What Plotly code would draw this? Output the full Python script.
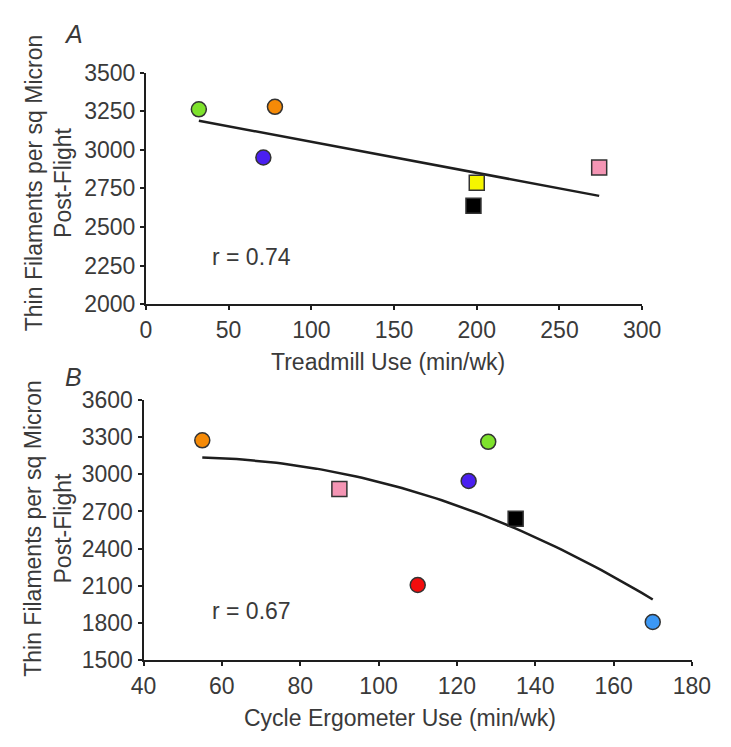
import numpy as np
import plotly.graph_objects as go

# Panel A: treadmill use vs thin filament density
a_labels = ["green", "orange", "blue", "yellow", "black", "pink"]
a_x = [32, 78, 71, 200, 198, 274]
a_y = [3262, 3278, 2950, 2787, 2638, 2885]
a_colors = ["#7ee22c", "#f58a07", "#4a1ff0", "#f5f500", "#000000", "#f495b4"]
a_symbols = ["circle", "circle", "circle", "square", "square", "square"]

# Panel B: cycle ergometer use vs thin filament density
b_labels = ["orange", "pink", "red", "blue", "green", "black", "lightblue"]
b_x = [55, 90, 110, 123, 128, 135, 170]
b_y = [3273, 2880, 2107, 2945, 3261, 2641, 1809]
b_colors = ["#f58a07", "#f495b4", "#f20d0d", "#4a1ff0", "#7ee22c", "#000000", "#3c98f5"]
b_symbols = ["circle", "square", "circle", "circle", "circle", "square", "circle"]

a_xticks = [0, 50, 100, 150, 200, 250, 300]
a_yticks = [2000, 2250, 2500, 2750, 3000, 3250, 3500]
b_xticks = [40, 60, 80, 100, 120, 140, 160, 180]
b_yticks = [1500, 1800, 2100, 2400, 2700, 3000, 3300, 3600]

W, H = 731, 747
FONT = "Liberation Sans, Arial, sans-serif"
TXT = "#3a3a3a"
FS = 23

fig = go.Figure()

ca = np.polyfit(a_x, a_y, 1)
xa = np.linspace(min(a_x), max(a_x), 50)
fig.add_trace(go.Scatter(x=xa, y=np.polyval(ca, xa), mode="lines",
                         line=dict(color="#1e1e1e", width=2.5),
                         xaxis="x", yaxis="y", showlegend=False, hoverinfo="skip"))
cb = np.polyfit(b_x, b_y, 2)
xb = np.linspace(min(b_x), max(b_x), 80)
fig.add_trace(go.Scatter(x=xb, y=np.polyval(cb, xb), mode="lines",
                         line=dict(color="#1e1e1e", width=2.5),
                         xaxis="x2", yaxis="y2", showlegend=False, hoverinfo="skip"))

fig.add_trace(go.Scatter(x=a_x, y=a_y, mode="markers", text=a_labels,
                         marker=dict(color=a_colors, symbol=a_symbols, size=15,
                                     line=dict(color="#333333", width=1.5)),
                         xaxis="x", yaxis="y", showlegend=False))
fig.add_trace(go.Scatter(x=b_x, y=b_y, mode="markers", text=b_labels,
                         marker=dict(color=b_colors, symbol=b_symbols, size=15,
                                     line=dict(color="#333333", width=1.5)),
                         xaxis="x2", yaxis="y2", showlegend=False))

def ax(rng, ticks, domain, anchor):
    return dict(range=rng, tickvals=ticks, domain=domain, anchor=anchor,
                showgrid=False, zeroline=False, showline=True, linecolor="#1e1e1e",
                linewidth=2, ticks="outside", ticklen=4, tickwidth=1.5, tickcolor="#1e1e1e",
                tickfont=dict(family=FONT, size=FS, color=TXT), fixedrange=True)

fig.update_layout(
    width=W, height=H, margin=dict(l=0, r=0, t=0, b=0),
    plot_bgcolor="white", paper_bgcolor="white",
    xaxis=ax([0, 300], a_xticks, [139 / W, 658 / W], "y"),
    yaxis=ax([2000, 3500], a_yticks, [1 - 301.7 / H, 1 - 61.7 / H], "x"),
    xaxis2=ax([40, 180], b_xticks, [136.5 / W, 710 / W], "y2"),
    yaxis2=ax([1500, 3600], b_yticks, [1 - 670.7 / H, 1 - 400.7 / H], "x2"),
)

def note(text, x, y, size=FS, **kw):
    fig.add_annotation(text=text, x=x / W, y=1 - y / H, xref="paper", yref="paper",
                       xanchor="center", yanchor="middle", showarrow=False,
                       font=dict(family=FONT, size=size, color=TXT), **kw)

ytitle = "Thin Filaments per sq Micron<br>Post-Flight"
note(ytitle, 37, 176, textangle=-90)
note(ytitle, 37, 534, textangle=-90)
note("Treadmill Use (min/wk)", 392, 362)
note("Cycle Ergometer Use (min/wk)", 405, 730)
note("<i>A</i>", 63, 22, size=25)
note("<i>B</i>", 63, 377, size=25)

fig.add_annotation(text="r = 0.74", x=39, y=2306, xref="x", yref="y", showarrow=False,
                   xanchor="left", yanchor="middle", font=dict(family=FONT, size=FS, color=TXT))
fig.add_annotation(text="r = 0.67", x=57, y=1895, xref="x2", yref="y2", showarrow=False,
                   xanchor="left", yanchor="middle", font=dict(family=FONT, size=FS, color=TXT))

fig.write_html("out.html")
